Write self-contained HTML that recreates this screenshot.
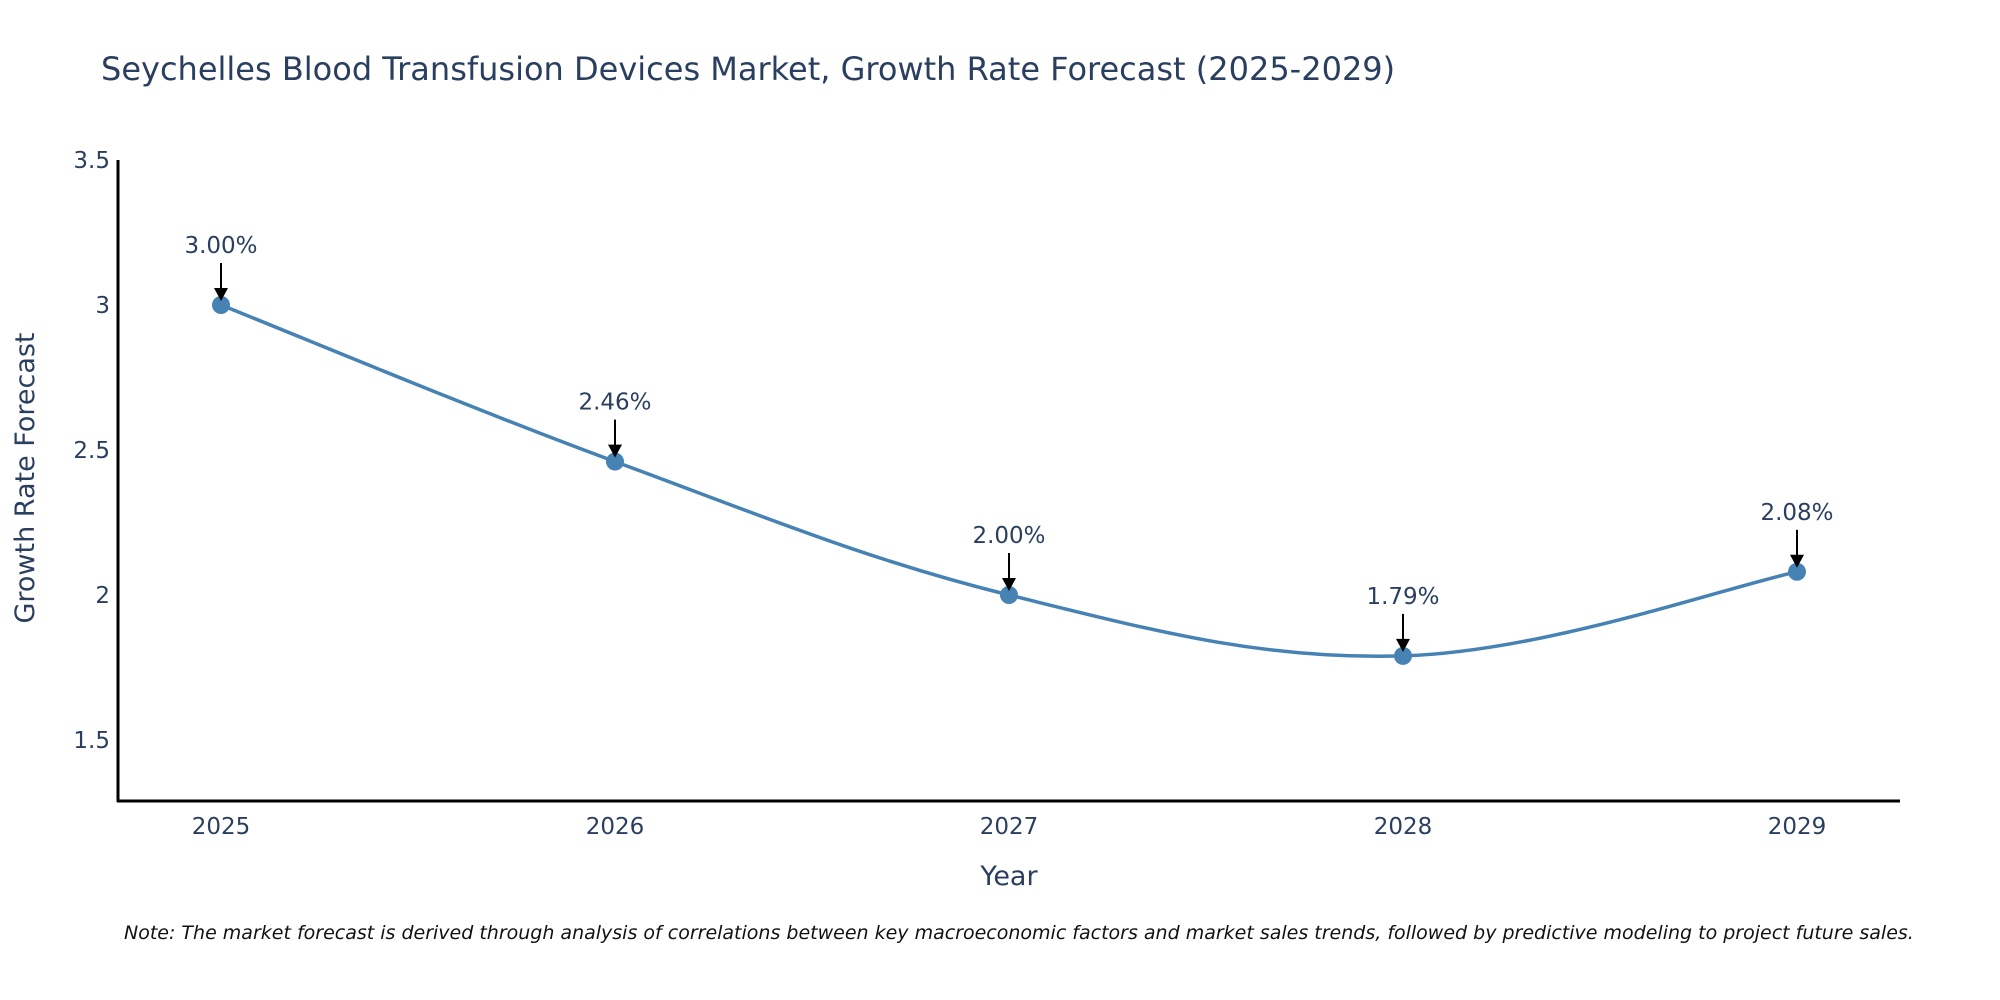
<!DOCTYPE html>
<html><head><meta charset="utf-8"><style>
body{margin:0;background:#fff;}
svg{display:block;font-family:"DejaVu Sans","Liberation Sans",sans-serif;}
</style></head><body>
<svg id="chart" width="2000" height="1000" viewBox="0 0 2000 1000">
<text x="101" y="80" font-size="32" fill="#2a3f5f">Seychelles Blood Transfusion Devices Market, Growth Rate Forecast (2025-2029)</text>
<g id="yticks"></g>
<g id="xticks"></g>
<line x1="118" y1="160" x2="118" y2="802" stroke="#000" stroke-width="3"/>
<line x1="117" y1="801" x2="1900" y2="801" stroke="#000" stroke-width="3"/>
<text x="34" y="478" font-size="27" fill="#2a3f5f" text-anchor="middle" transform="rotate(-90 34 478)">Growth Rate Forecast</text>
<text x="1009" y="885" font-size="27" fill="#2a3f5f" text-anchor="middle">Year</text>
<g id="series"></g>
<g id="annots"></g>
<text x="124" y="939" font-size="19" font-style="italic" fill="#111">Note: The market forecast is derived through analysis of correlations between key macroeconomic factors and market sales trends, followed by predictive modeling to project future sales.</text>
</svg>
<script>
const years = [2025, 2026, 2027, 2028, 2029];
const growth = [3.00, 2.46, 2.00, 1.79, 2.08];
const labels = ["3.00%", "2.46%", "2.00%", "1.79%", "2.08%"];
const yTicks = [1.5, 2, 2.5, 3, 3.5];
const yTickLabels = ["1.5", "2", "2.5", "3", "3.5"];

const NS = "http://www.w3.org/2000/svg";
function xs(v){ return 221 + (v - 2025) * 394; }
function ys(v){ return 305 - (v - 3) * 290; }
function mk(tag, attrs, parent){ const e=document.createElementNS(NS,tag); for(const k in attrs) e.setAttribute(k,attrs[k]); parent.appendChild(e); return e; }

const yt = document.getElementById('yticks');
yTicks.forEach((t,i)=>{
  const e = mk('text',{x:110,y:ys(t)+8,'font-size':23,fill:'#2a3f5f','text-anchor':'end'},yt);
  
  
  e.textContent = yTickLabels[i];
});
const xt = document.getElementById('xticks');
years.forEach(y=>{
  const e = mk('text',{x:xs(y),y:834,'font-size':23,fill:'#2a3f5f','text-anchor':'middle'},xt);
  
  
  e.textContent = String(y);
});

const pts = years.map((y,i)=>[xs(y), ys(growth[i])]);
let d = `M${pts[0][0]},${pts[0][1]}`;
const s = 0.18;
for(let i=0;i<pts.length-1;i++){
  const p0 = pts[i-1]||pts[i], p1=pts[i], p2=pts[i+1], p3=pts[i+2]||pts[i+1];
  const c1=[p1[0]+(p2[0]-p0[0])*s, p1[1]+(p2[1]-p0[1])*s];
  const c2=[p2[0]-(p3[0]-p1[0])*s, p2[1]-(p3[1]-p1[1])*s];
  d += ` C${c1[0]},${c1[1]} ${c2[0]},${c2[1]} ${p2[0]},${p2[1]}`;
}
const ser = document.getElementById('series');
const line = mk('path',{d:d,fill:'none',stroke:'#4682B4','stroke-width':3.5},ser);


pts.forEach(p=>{
  const c = mk('circle',{cx:p[0],cy:p[1],r:9,fill:'#4682B4'},ser);
  
  
});

const an = document.getElementById('annots');
pts.forEach((p,i)=>{
  const g = mk('g',{},an);
  
  
  mk('line',{x1:p[0],y1:p[1]-42,x2:p[0],y2:p[1]-16,stroke:'#000','stroke-width':2},g);
  mk('polygon',{points:`${p[0]-7},${p[1]-17} ${p[0]+7},${p[1]-17} ${p[0]},${p[1]-4}`,fill:'#000'},g);
  const t = mk('text',{x:p[0],y:p[1]-52,'font-size':23,fill:'#2a3f5f','text-anchor':'middle'},g);
  t.textContent = labels[i];
});
</script>
</body></html>
